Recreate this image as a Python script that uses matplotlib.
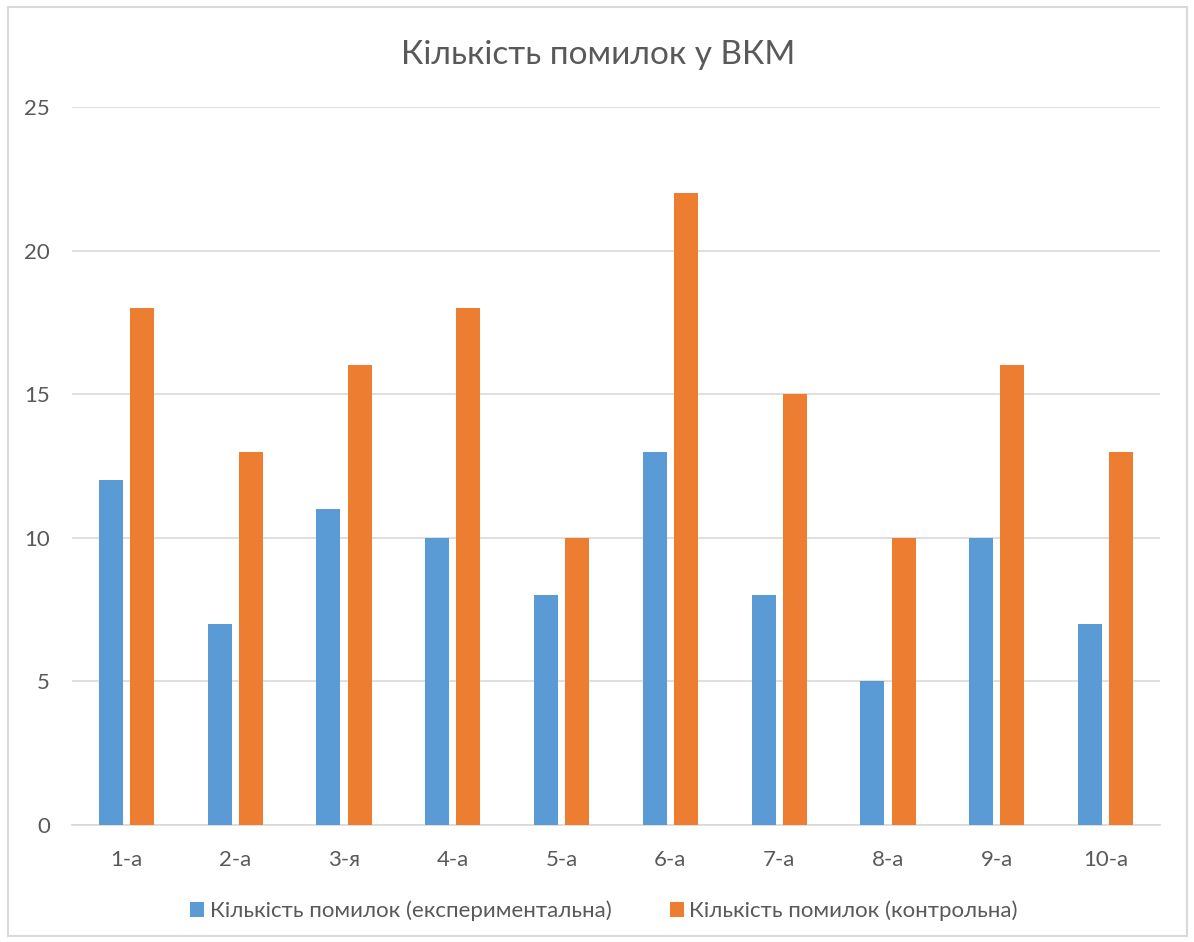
import matplotlib
matplotlib.use("Agg")
import matplotlib.pyplot as plt
import matplotlib.patches as mp
import numpy as np

plt.rcParams['font.family'] = ['Lato', 'DejaVu Sans']

categories = ['1-а', '2-а', '3-я', '4-а', '5-а', '6-а', '7-а', '8-а', '9-а', '10-а']
errors_exp = [12, 7, 11, 10, 8, 13, 8, 5, 10, 7]
errors_ctrl = [18, 13, 16, 18, 10, 22, 15, 10, 16, 13]
series_names = ['Кількість помилок (експериментальна)', 'Кількість помилок (контрольна)']
title = 'Кількість помилок у ВКМ'

blue = '#5B9BD5'
orange = '#ED7D31'
grey_txt = '#595959'
grid_col = '#D9D9D9'

W, H = 1194, 942
fig = plt.figure(figsize=(W / 100, H / 100), dpi=100)

# chart frame
fig.patches.append(mp.Rectangle((8 / W, 1 - 936 / H), 1179 / W, 929 / H,
                                transform=fig.transFigure, fill=False,
                                edgecolor=grid_col, lw=1.5))

ax = fig.add_axes([72 / W, 1 - 825 / H, (1160 - 72) / W, (825 - 107) / H])

x = np.arange(len(categories))
w = 0.22
ax.bar(x - 0.143, errors_exp, width=w, color=blue, label=series_names[0], zorder=3)
ax.bar(x + 0.143, errors_ctrl, width=w, color=orange, label=series_names[1], zorder=3)

ax.set_xlim(-0.5, len(categories) - 0.5)
ax.set_ylim(0, 25)
ax.set_yticks(range(0, 26, 5))
ax.set_xticks(x)
ax.set_xticklabels(categories)
ax.yaxis.grid(True, color=grid_col, lw=1.2, zorder=0)
ax.set_axisbelow(True)
for s in ['top', 'right', 'left']:
    ax.spines[s].set_visible(False)
ax.spines['bottom'].set_color(grid_col)
ax.spines['bottom'].set_linewidth(1.2)
ax.tick_params(axis='both', length=0, labelsize=16, labelcolor=grey_txt)
ax.tick_params(axis='x', pad=18)
ax.tick_params(axis='y', pad=16)

fig.text(598 / W, 1 - 55 / H, title, ha='center', va='center',
         fontsize=24, color=grey_txt)

leg = fig.legend(loc='center', bbox_to_anchor=(604 / W, 1 - 911 / H), ncol=2,
                 frameon=False, fontsize=16, labelcolor=grey_txt,
                 handlelength=0.63, handleheight=0.63, handletextpad=0.25,
                 columnspacing=2.6)

fig.savefig('out.png', dpi=100, facecolor='white')
